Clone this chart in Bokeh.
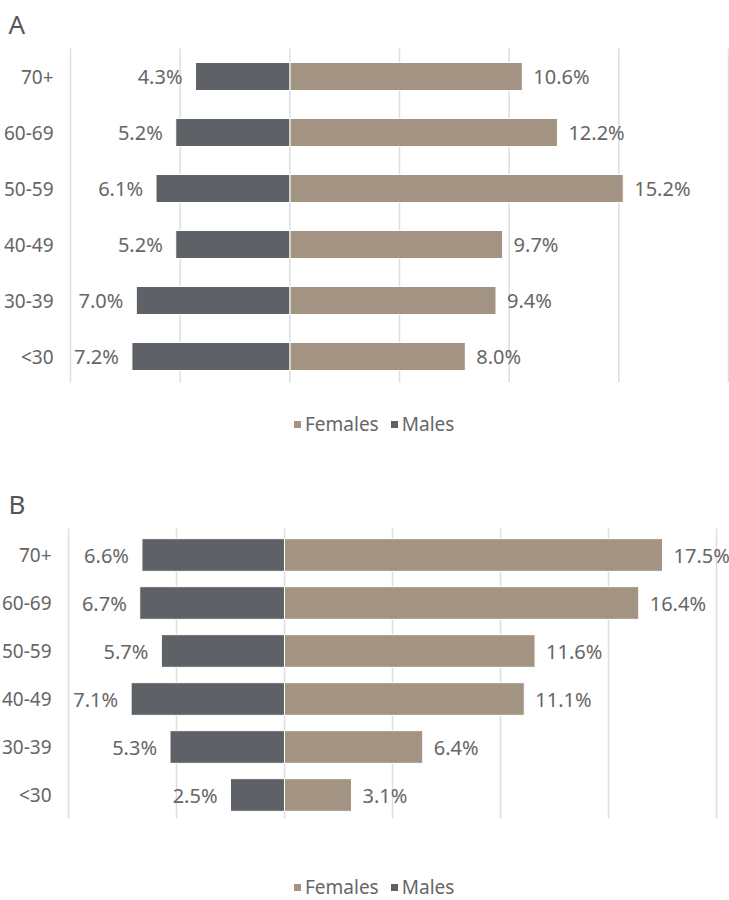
from bokeh.plotting import figure
from bokeh.layouts import column
from bokeh.models import Range1d, Legend, LegendItem, ColumnDataSource
from bokeh.core.properties import value
from bokeh.embed import file_html
from bokeh.resources import INLINE

# Age groups, listed bottom to top
age_groups = ["<30", "30-39", "40-49", "50-59", "60-69", "70+"]

# Panel A shares (%)
males_a = [7.2, 7.0, 5.2, 6.1, 5.2, 4.3]
females_a = [8.0, 9.4, 9.7, 15.2, 12.2, 10.6]

# Panel B shares (%)
males_b = [2.5, 5.3, 7.1, 5.7, 6.7, 6.6]
females_b = [3.1, 6.4, 11.1, 11.6, 16.4, 17.5]

# Vertical gridlines (percentage points; males to the left of zero)
grid_ticks = [-10, -5, 0, 5, 10, 15, 20]

FONT = "Noto Sans"
TEXT_COLOR = "#666666"
FEMALE_COLOR = "#a29382"
MALE_COLOR = "#5e6165"
GRID_COLOR = "#dedede"

W, H = 729, 450


def pyramid(letter, males, females, grid_l, grid_r, grid_top, grid_bot,
            top_center, bot_center, bar_h, letter_base, legend_left,
            legend_mid):
    """One back-to-back bar panel. Pixel arguments describe the layout
    inside the 729x450 canvas; the data ranges are derived from them."""
    n = len(age_groups)
    kx = (grid_r - grid_l) / (grid_ticks[-1] - grid_ticks[0])   # px per %
    ky = (bot_center - top_center) / (n - 1)                    # px per row

    x_start = grid_ticks[0] - grid_l / kx
    x_end = grid_ticks[-1] + (W - grid_r) / kx
    y_start = (bot_center - H) / ky
    y_end = bot_center / ky

    p = figure(width=W, height=H, output_backend="svg",
               toolbar_location=None,
               x_axis_location=None, y_axis_location=None,
               x_range=Range1d(x_start, x_end),
               y_range=Range1d(y_start, y_end),
               min_border=0)
    p.outline_line_color = None
    p.background_fill_color = "white"
    p.border_fill_color = "white"
    for g in p.grid:
        g.visible = False

    pos = list(range(n))

    # gridlines, limited to the bar area
    p.segment(x0=grid_ticks, x1=grid_ticks,
              y0=(bot_center - grid_bot) / ky, y1=(bot_center - grid_top) / ky,
              line_color=GRID_COLOR, line_width=1.5)

    src = ColumnDataSource(dict(
        pos=pos,
        age=age_groups,
        m_left=[-v for v in males],
        f_right=females,
        m_lbl=[f"{v:.1f}%" for v in males],
        f_lbl=[f"{v:.1f}%" for v in females],
        axis_x=[grid_ticks[0]] * n,
    ))

    rf = p.hbar(y="pos", left=0, right="f_right", height=bar_h, source=src,
                fill_color=FEMALE_COLOR, line_color="white", line_width=1)
    rm = p.hbar(y="pos", left="m_left", right=0, height=bar_h, source=src,
                fill_color=MALE_COLOR, line_color="white", line_width=1)

    # category labels
    p.text(x="axis_x", y="pos", text="age", source=src, x_offset=-17,
           text_align="right", text_baseline="middle",
           text_font=value(FONT), text_font_size="19px",
           text_color=TEXT_COLOR)

    # value labels
    p.text(x="m_left", y="pos", text="m_lbl", source=src, x_offset=-13,
           text_align="right", text_baseline="middle",
           text_font=value(FONT), text_font_size="20px",
           text_color=TEXT_COLOR)
    p.text(x="f_right", y="pos", text="f_lbl", source=src, x_offset=11,
           text_align="left", text_baseline="middle",
           text_font=value(FONT), text_font_size="20px",
           text_color=TEXT_COLOR)

    # panel letter
    p.text(x=[x_start + 8 / kx], y=[(bot_center - letter_base) / ky],
           text=[letter], text_align="left", text_baseline="alphabetic",
           text_font=value(FONT), text_font_size="26px",
           text_color="#555555")

    legend_h = 20
    legend = Legend(items=[LegendItem(label="Females", renderers=[rf]),
                           LegendItem(label="Males", renderers=[rm])],
                    orientation="horizontal",
                    location=(legend_left, H - legend_mid - legend_h / 2),
                    glyph_width=10, glyph_height=10, label_standoff=3,
                    spacing=10, padding=0, margin=0,
                    label_height=legend_h,
                    border_line_color=None, background_fill_alpha=0,
                    label_text_font=FONT, label_text_font_size="19px",
                    label_text_color=TEXT_COLOR)
    p.add_layout(legend, "center")
    return p


pa = pyramid("A", males_a, females_a,
             grid_l=70, grid_r=728, grid_top=48, grid_bot=382,
             top_center=76, bot_center=356, bar_h=0.5,
             letter_base=23, legend_left=292, legend_mid=427)
pb = pyramid("B", males_b, females_b,
             grid_l=68, grid_r=716, grid_top=78, grid_bot=368,
             top_center=104.5, bot_center=344.5, bar_h=0.68,
             letter_base=53, legend_left=292, legend_mid=440)

layout = column(pa, pb, spacing=0)
open("out.html", "w").write(file_html(layout, INLINE))
